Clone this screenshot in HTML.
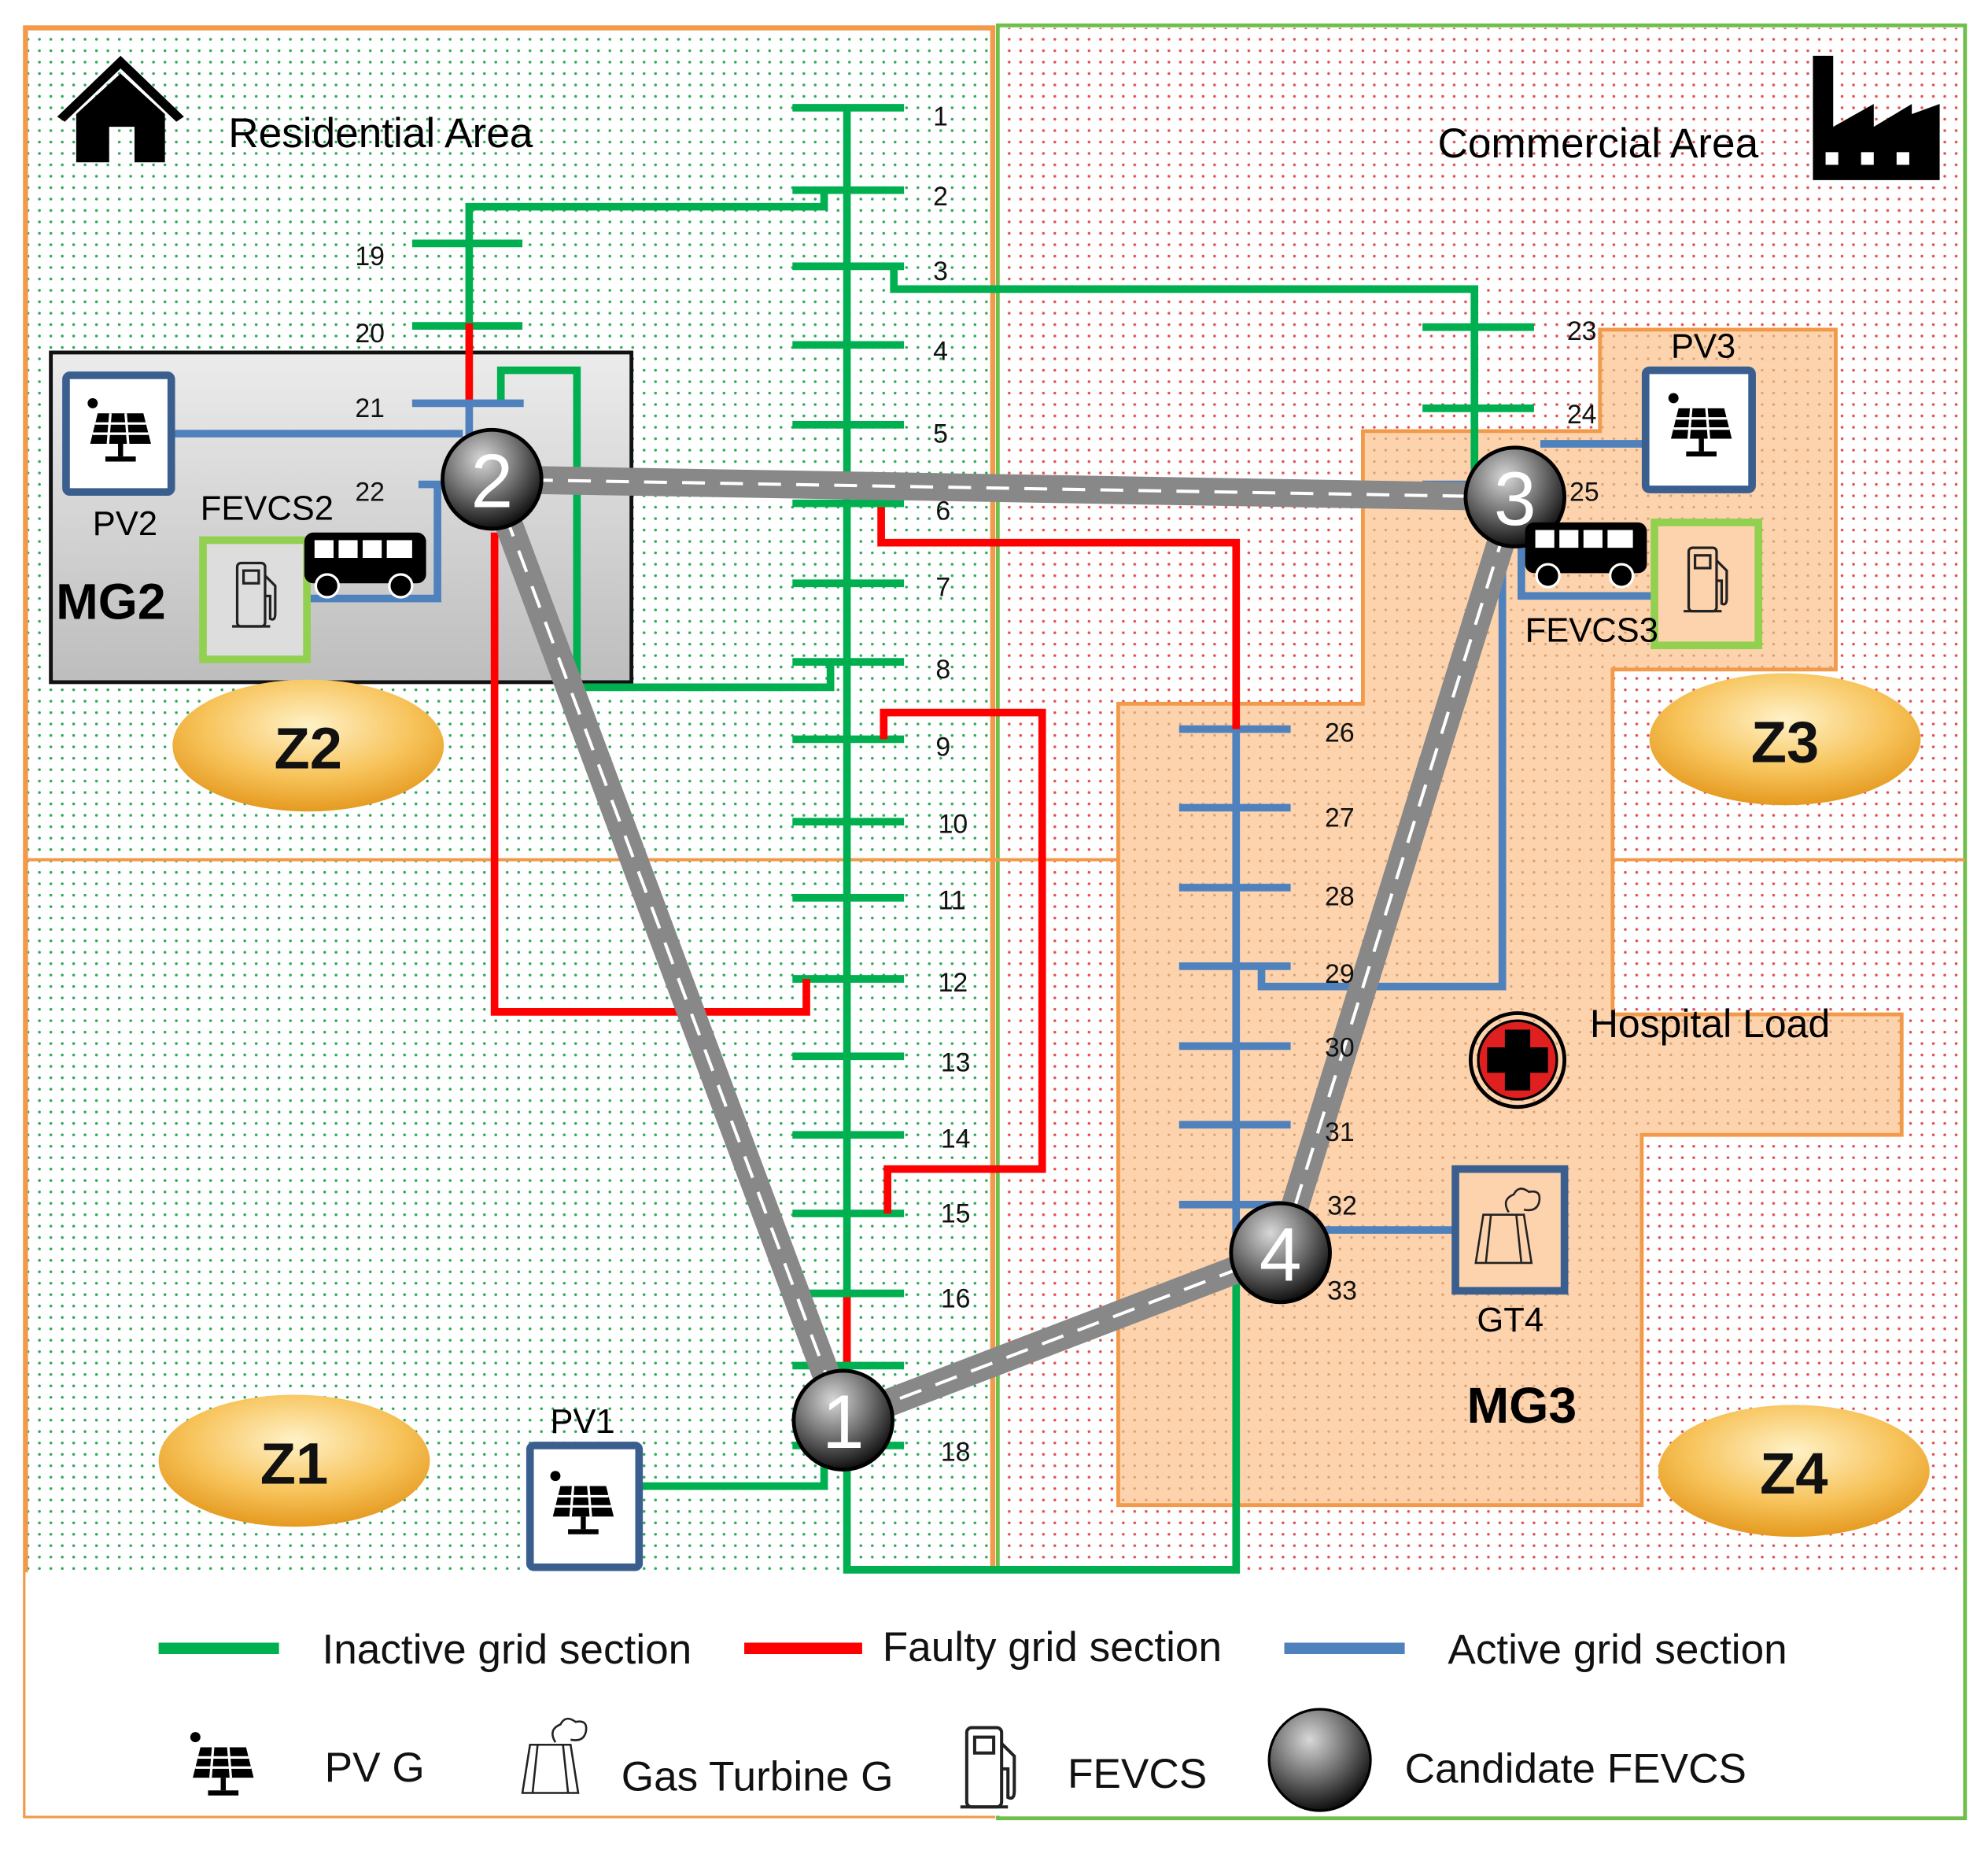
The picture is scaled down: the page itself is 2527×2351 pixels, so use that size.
<!DOCTYPE html>
<html><head><meta charset="utf-8"><style>
html,body{margin:0;padding:0;background:#fff}
svg{display:block}
text{font-family:"Liberation Sans",sans-serif}
</style></head><body>
<svg width="2527" height="2351" viewBox="0 0 1568 1459" xmlns="http://www.w3.org/2000/svg">
<defs>
<pattern id="gd" width="9" height="9" patternUnits="userSpaceOnUse"><rect width="9" height="9" fill="#fff"/><circle cx="4" cy="4" r="1.1" fill="#2fa85a"/></pattern>
<pattern id="rd" width="9" height="9" patternUnits="userSpaceOnUse"><rect width="9" height="9" fill="#fff"/><circle cx="4" cy="4" r="1.1" fill="#e05050"/></pattern>
<pattern id="od" width="9" height="9" patternUnits="userSpaceOnUse"><rect width="9" height="9" fill="#fcd3ad"/><circle cx="4" cy="4" r="1" fill="#d9a070"/></pattern>
<radialGradient id="ball" cx="40%" cy="30%" r="70%"><stop offset="0" stop-color="#d8d8d8"/><stop offset="0.5" stop-color="#777"/><stop offset="1" stop-color="#111"/></radialGradient>
<radialGradient id="zg" cx="50%" cy="35%" r="65%"><stop offset="0" stop-color="#fff2c8"/><stop offset="0.6" stop-color="#f7c35a"/><stop offset="1" stop-color="#e59a20"/></radialGradient>
<linearGradient id="mg" x1="0" y1="0" x2="0" y2="1"><stop offset="0" stop-color="#ececec"/><stop offset="1" stop-color="#bdbdbd"/></linearGradient>
<g id="pv"><circle cx="-22" cy="-22" r="4" fill="#000"/><path d="M-18,-14 L18,-14 L24,10 L-24,10 Z" fill="#000"/><path d="M-20,-6 H20 M-22,2 H22 M-8,-14 L-10,10 M4,-14 L6,10" stroke="#fff" stroke-width="2"/><rect x="-2" y="10" width="4" height="10"/><rect x="-12" y="20" width="24" height="4"/></g>
<g id="pump" fill="none" stroke="#222" stroke-width="2"><rect x="-16" y="-26" width="22" height="50" rx="3"/><rect x="-11" y="-20" width="12" height="10"/><path d="M6,-16 L14,-8 V14 Q14,20 10,18 V0 H6"/><path d="M-20,24 H10"/></g>
<g id="bus"><rect x="0" y="0" width="96" height="40" rx="7" fill="#000"/><rect x="8" y="6" width="15" height="14" fill="#fff"/><rect x="27" y="6" width="15" height="14" fill="#fff"/><rect x="46" y="6" width="15" height="14" fill="#fff"/><rect x="65" y="6" width="20" height="14" fill="#fff"/><circle cx="18" cy="42" r="9" fill="#000" stroke="#fff" stroke-width="2"/><circle cx="76" cy="42" r="9" fill="#000" stroke="#fff" stroke-width="2"/></g>
<g id="gt" fill="none" stroke="#222" stroke-width="1.6"><path d="M-22,26 L-16,-12 H16 L22,26 Z M-10,-12 L-14,26 M10,-12 L14,26"/><path d="M4,-14 q-6,-10 4,-14 q4,-8 12,-2 q10,-2 8,8 q-2,8 -12,6" /></g>
</defs>
<rect width="1568" height="1459" fill="#fff"/>
<!-- areas -->
<rect x="20" y="22" width="763" height="1218" fill="url(#gd)"/>
<rect x="787" y="22" width="763" height="1218" fill="url(#rd)"/>
<rect x="20" y="22" width="763" height="1410" fill="none" stroke="#f29a4a" stroke-width="4"/>
<rect x="787" y="20" width="763" height="1414" fill="none" stroke="#6fbf4a" stroke-width="3"/>
<line x1="20" y1="678" x2="1550" y2="678" stroke="#f29a4a" stroke-width="2.5"/>
<line x1="783" y1="22" x2="783" y2="1240" stroke="#f29a4a" stroke-width="3"/>
<rect x="20" y="1240" width="1520" height="192" fill="#fff"/>
<!-- MG3 region -->
<path d="M1262,260 H1448 V528 H1272 V800 H1500 V895 H1295 V1187 H882 V555 H1075 V340 H1262 Z" fill="url(#od)" stroke="#f29a4a" stroke-width="3"/>
<!-- MG2 box -->
<rect x="40" y="278" width="458" height="260" fill="url(#mg)" stroke="#111" stroke-width="3"/>
<!-- icons top -->
<g fill="#000"><path d="M45,92 L95,44 L145,92 L139,96 L95,54 L51,96 Z"/><path d="M60,90 L95,58 L130,90 V128 H106 V100 H86 V128 H60 Z"/></g>
<g fill="#000"><path d="M1430,142 V44 H1446 V100 L1478,82 V100 L1508,82 V90 L1530,82 V142 Z"/><rect x="1440" y="120" width="10" height="10" fill="#fff"/><rect x="1468" y="120" width="10" height="10" fill="#fff"/><rect x="1496" y="120" width="10" height="10" fill="#fff"/></g>
<text x="180" y="116" font-size="33">Residential Area</text>
<text x="1134" y="124" font-size="33">Commercial Area</text>
<!-- grid lines -->
<g stroke-width="6" fill="none" stroke-linejoin="miter">
<path d="M668,85 V1238 H975 V1000" stroke="#00b050"/>
<line x1="668" y1="1020" x2="668" y2="1077" stroke="#f00"/>
<g stroke="#00b050">
<path d="M625,85 H713 M625,150 H713 M625,210 H713 M625,272 H713 M625,335 H713 M625,397 H713 M625,460 H713 M625,522 H713 M625,583 H713 M625,648 H713 M625,708 H713 M625,772 H713 M625,833 H713 M625,895 H713 M625,957 H713 M625,1020 H713 M625,1077 H713 M625,1140 H713"/>
<path d="M370,255 V163 H650 V150"/>
<path d="M325,192 H412 M325,257 H412"/>
<path d="M395,318 V292 H455 V542 H655 V522"/>
<path d="M705,210 V228 H1163 V370"/>
<path d="M1122,258 H1210 M1122,322 H1210"/>
</g>
<path d="M370,255 V316" stroke="#f00"/>
<g stroke="#4f81bd">
<path d="M370,316 V380"/><path d="M325,318 H413"/><path d="M330,382 H345 V472 H243"/>
<path d="M135,342 H365"/>
<path d="M1163,370 V390 M1122,382 H1160"/>
<path d="M1215,350 H1298"/><path d="M1200,405 V470 H1305"/>
<path d="M975,575 V1000"/>
<path d="M930,575 H1018 M930,637 H1018 M930,700 H1018 M930,762 H1018 M930,825 H1018 M930,887 H1018 M930,950 H1018"/>
<path d="M995,762 V778 H1185 V430"/>
<path d="M1045,970 H1147"/>
</g>
<g stroke="#f00">
<path d="M695,400 V428 H975 V575"/>
<path d="M697,583 V562 H822 V922 H700 V957"/>
<path d="M390,420 V798 H636 V772"/>
</g>
<path d="M505,1172 H650 V1150" stroke="#00b050"/>
</g>
<!-- roads -->
<g stroke-linecap="butt">
<path d="M388,378 L1195,392 M388,378 L665,1120 L1010,988 L1195,392" stroke="#888" stroke-width="22" fill="none" stroke-linejoin="round"/>
<path d="M388,378 L1195,392 M388,378 L665,1120 L1010,988 L1195,392" stroke="#fff" stroke-width="2.5" stroke-dasharray="18,12" fill="none"/>
</g>
<!-- nodes -->
<g font-size="58" fill="#fff" text-anchor="middle" stroke="#000" stroke-width="3">
<circle cx="388" cy="378" r="39" fill="url(#ball)"/><circle cx="1195" cy="392" r="39" fill="url(#ball)"/><circle cx="665" cy="1120" r="39" fill="url(#ball)"/><circle cx="1010" cy="988" r="39" fill="url(#ball)"/>
</g>
<g font-size="60" fill="#fff" text-anchor="middle"><text x="388" y="400">2</text><text x="1195" y="414">3</text><text x="665" y="1142">1</text><text x="1010" y="1010">4</text></g>
<!-- bus labels -->
<g font-size="21" fill="#111">
<text x="736" y="99">1</text><text x="736" y="162">2</text><text x="736" y="221">3</text><text x="736" y="284">4</text><text x="736" y="349">5</text><text x="738" y="410">6</text><text x="738" y="470">7</text><text x="738" y="535">8</text><text x="738" y="596">9</text><text x="740" y="657">10</text><text x="740" y="717">11</text><text x="740" y="782">12</text><text x="742" y="845">13</text><text x="742" y="905">14</text><text x="742" y="964">15</text><text x="742" y="1031">16</text><text x="742" y="1152">18</text>
<text x="280" y="209">19</text><text x="280" y="270">20</text><text x="280" y="329">21</text><text x="280" y="395">22</text>
<text x="1236" y="268">23</text><text x="1236" y="334">24</text><text x="1238" y="395">25</text>
<text x="1045" y="585">26</text><text x="1045" y="652">27</text><text x="1045" y="714">28</text><text x="1045" y="775">29</text><text x="1045" y="833">30</text><text x="1045" y="900">31</text><text x="1047" y="958">32</text><text x="1047" y="1025">33</text>
</g>
<!-- MG2 contents -->
<rect x="52" y="296" width="83" height="92" fill="#fff" stroke="#3a5f8f" stroke-width="6" rx="3"/>
<use href="#pv" x="95" y="340"/>
<text x="73" y="422" font-size="27">PV2</text>
<text x="158" y="410" font-size="27">FEVCS2</text>
<text x="44" y="488" font-size="40" font-weight="bold">MG2</text>
<rect x="160" y="426" width="82" height="94" fill="#ddd" stroke="#92d050" stroke-width="6"/>
<use href="#pump" x="203" y="470"/>
<use href="#bus" x="240" y="420"/>
<!-- MG3 contents -->
<rect x="1298" y="292" width="84" height="94" fill="#fff" stroke="#3a5f8f" stroke-width="6" rx="3"/>
<use href="#pv" x="1342" y="336"/>
<text x="1318" y="282" font-size="27">PV3</text>
<rect x="1305" y="412" width="82" height="97" fill="#fcd3ad" stroke="#92d050" stroke-width="6"/>
<use href="#pump" x="1348" y="458"/>
<use href="#bus" x="1203" y="412"/>
<text x="1203" y="506" font-size="27">FEVCS3</text>
<circle cx="1197" cy="836" r="37" fill="none" stroke="#000" stroke-width="3"/>
<circle cx="1197" cy="836" r="31" fill="#e02020" stroke="#000" stroke-width="2"/>
<path d="M1187,812 H1207 V826 H1221 V846 H1207 V860 H1187 V846 H1173 V826 H1187 Z" fill="#000"/>
<text x="1254" y="818" font-size="31">Hospital Load</text>
<rect x="1148" y="922" width="86" height="96" fill="#fcd3ad" stroke="#3a5f8f" stroke-width="6"/>
<use href="#gt" x="1186" y="970"/>
<text x="1165" y="1050" font-size="27">GT4</text>
<text x="1157" y="1122" font-size="40" font-weight="bold">MG3</text>
<!-- PV1 -->
<rect x="418" y="1140" width="86" height="96" fill="#fff" stroke="#3a5f8f" stroke-width="6" rx="3"/>
<use href="#pv" x="460" y="1186"/>
<text x="434" y="1130" font-size="27">PV1</text>
<!-- zones -->
<g font-size="46" font-weight="bold" text-anchor="middle" fill="#111">
<ellipse cx="243" cy="588" rx="107" ry="52" fill="url(#zg)"/><text x="243" y="606">Z2</text>
<ellipse cx="1408" cy="583" rx="107" ry="52" fill="url(#zg)"/><text x="1408" y="601">Z3</text>
<ellipse cx="232" cy="1152" rx="107" ry="52" fill="url(#zg)"/><text x="232" y="1170">Z1</text>
<ellipse cx="1415" cy="1160" rx="107" ry="52" fill="url(#zg)"/><text x="1415" y="1178">Z4</text>
</g>
<!-- legend -->
<g stroke-width="9"><line x1="125" y1="1300" x2="220" y2="1300" stroke="#00b050"/><line x1="587" y1="1300" x2="680" y2="1300" stroke="#f00"/><line x1="1013" y1="1300" x2="1108" y2="1300" stroke="#4f81bd"/></g>
<g font-size="33" fill="#111">
<text x="254" y="1312">Inactive grid section</text><text x="696" y="1310">Faulty grid section</text><text x="1142" y="1312">Active grid section</text>
<text x="256" y="1405">PV G</text><text x="490" y="1412">Gas Turbine G</text><text x="842" y="1410">FEVCS</text><text x="1108" y="1406">Candidate FEVCS</text>
</g>
<use href="#pv" x="176" y="1392"/>
<use href="#gt" x="434" y="1388"/>
<use href="#pump" x="782" y="1392" transform="translate(-195,-345) scale(1.25)"/>
<circle cx="1041" cy="1388" r="40" fill="url(#ball)" stroke="#000" stroke-width="2"/>
</svg>
</body></html>
